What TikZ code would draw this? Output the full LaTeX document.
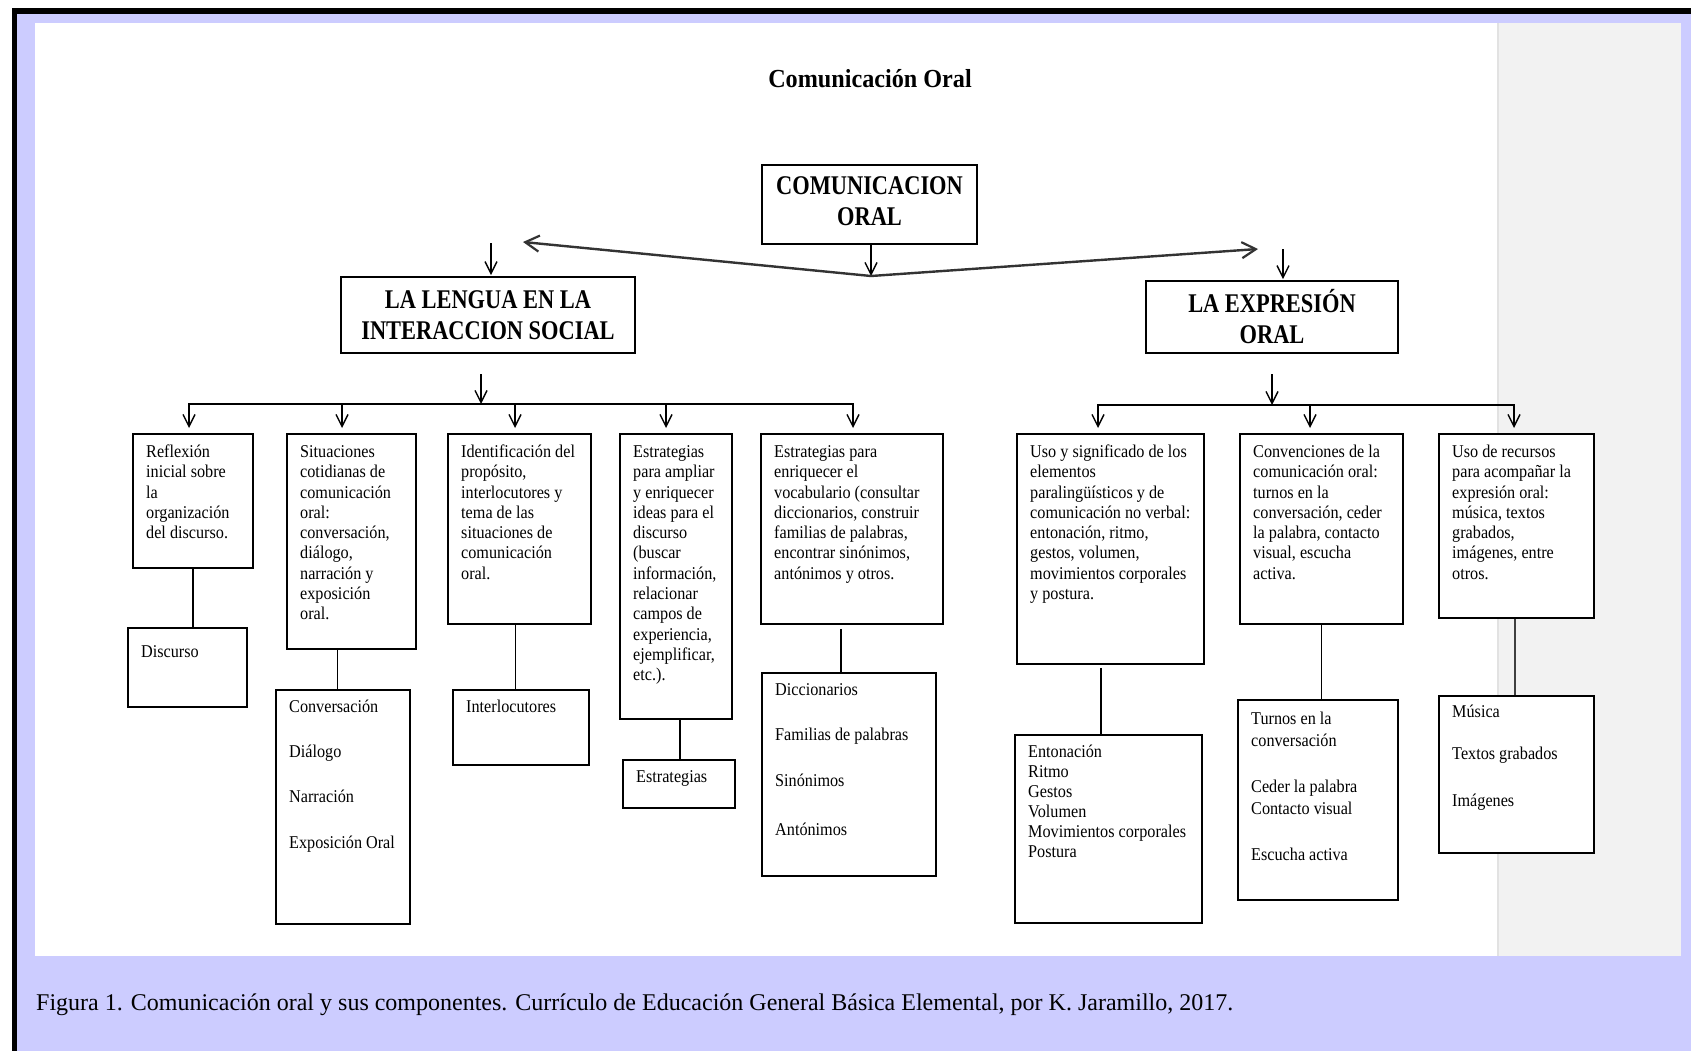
\documentclass[tikz,border=0pt]{standalone}
\usepackage{fontspec}
\setmainfont{Liberation Serif}
\newfontfamily\capfont{Liberation Serif}
\newfontfamily\condfont[FakeStretch=0.9]{Liberation Serif}
\newfontfamily\headfont[FakeStretch=0.83]{Liberation Serif}
\newfontfamily\titlefont[FakeStretch=0.93]{Liberation Serif}
\usetikzlibrary{arrows.meta}
\definecolor{lav}{HTML}{CCCCFF}
\definecolor{panelgray}{HTML}{F2F2F2}
\definecolor{panelline}{HTML}{E2E2E2}
\tikzset{
  box/.style={draw=black, line width=1.8pt, rectangle, inner sep=0pt, fill=white},
  hbox/.style={draw=black, line width=1.8pt, rectangle, inner sep=0pt, fill=white,
    font=\headfont\bfseries\fontsize{27}{31}\selectfont, align=center},
  txt/.style={inner sep=0pt, align=left, font=\condfont\fontsize{18}{20.3}\selectfont},
  arr/.style={line width=1.4pt, -{Straight Barb[length=12pt,width=12pt,line width=1.4pt]}},
  bigarr/.style={line width=2.4pt, draw=black!80, -{Straight Barb[length=14pt,width=16pt,line width=2.2pt]}},
  conn/.style={line width=1.6pt}
}
% name, x, y, width, height, text dy, text
\newcommand\dbox[7]{%
  \node[box, minimum width=#4pt, minimum height=#5pt, anchor=north west] (#1) at (#2,#3) {};
  \node[txt, anchor=north west] (#1t) at ([xshift=14pt,yshift=-#6pt]#1.north west) {\strut #7};
}
\begin{document}
\begin{tikzpicture}[x=1pt,y=-1pt]
\useasboundingbox (0,0) rectangle (1691,1051);
% background and frame
\fill[white] (0,0) rectangle (1691,1051);
\fill[lav] (11.5,8.5) rectangle (1691,1051);
\fill[black] (11.5,8.5) rectangle (1691,14.5);
\fill[black] (11.5,8.5) rectangle (17,1051);
\fill[white] (34.5,22.7) rectangle (1497,956);
\fill[panelgray] (1497,22.7) rectangle (1681,956);
\draw[panelline, line width=1.5pt] (1497.8,22.7) -- (1497.8,956);

% title and caption
\node[font=\titlefont\bfseries\fontsize{26}{30}\selectfont, anchor=base, inner sep=0pt] (title) at (870,88) {Comunicación Oral};
\node[font=\capfont\fontsize{24}{28}\selectfont, anchor=base west, inner sep=0pt] (caption) at (36,1010)
  {Figura 1. Comunicación oral y sus componentes. Currículo de Educación General Básica Elemental, por K. Jaramillo, 2017.};

% heading boxes
\node[hbox, minimum width=215pt, minimum height=79pt] (top) at (869.5,204.5) {COMUNICACION\\ORAL\rule[-6pt]{0pt}{0pt}};
\node[hbox, minimum width=294pt, minimum height=76pt] (lengua) at (488,315) {LA LENGUA EN LA\\INTERACCION SOCIAL};
\node[hbox, minimum width=252pt, minimum height=72pt] (expr) at (1272,317) {LA EXPRESIÓN\\ORAL};

% top arrows
\coordinate (V) at (871,276);
\coordinate (Ltip) at (523,242);
\coordinate (Rtip) at (1258,249);
\draw[arr] (top.south -| V) -- (V);
\draw[bigarr] (V) -- (Ltip);
\draw[bigarr] (V) -- (Rtip);
\coordinate (lin) at (491,243);
\draw[arr, shorten >=1pt] (lin) -- (lin |- lengua.north);
\coordinate (rin) at (1283,249);
\draw[arr, shorten >=1pt] (rin) -- (rin |- expr.north);

% level 3 boxes
\dbox{A}{132}{433}{120}{134}{10}{Reflexión\\inicial sobre\\la\\organización\\del discurso.}
\dbox{B}{286}{433}{129}{215}{10}{Situaciones\\cotidianas de\\comunicación\\oral:\\conversación,\\diálogo,\\narración y\\exposición\\oral.}
\dbox{C}{447}{433}{143}{190}{10}{Identificación del\\propósito,\\interlocutores y\\tema de las\\situaciones de\\comunicación\\oral.}
\dbox{D}{619}{433}{112}{285}{10}{Estrategias\\para ampliar\\y enriquecer\\ideas para el\\discurso\\(buscar\\información,\\relacionar\\campos de\\experiencia,\\ejemplificar,\\etc.).}
\dbox{E}{760}{433}{182}{190}{10}{Estrategias para\\enriquecer el\\vocabulario (consultar\\diccionarios, construir\\familias de palabras,\\encontrar sinónimos,\\antónimos y otros.}
\dbox{F}{1016}{433}{187}{230}{10}{Uso y significado de los\\elementos\\paralingüísticos y de\\comunicación no verbal:\\entonación, ritmo,\\gestos, volumen,\\movimientos corporales\\y postura.}
\dbox{G}{1239}{433}{163}{190}{10}{Convenciones de la\\comunicación oral:\\turnos en la\\conversación, ceder\\la palabra, contacto\\visual, escucha\\activa.}
\dbox{H}{1438}{433}{155}{184}{10}{Uso de recursos\\para acompañar la\\expresión oral:\\música, textos\\grabados,\\imágenes, entre\\otros.}

% level 4 boxes
\dbox{A2}{127}{627}{119}{79}{16}{Discurso}
\dbox{B2}{275}{689}{134}{234}{9}{Conversación\\[24.7pt]Diálogo\\[24.7pt]Narración\\[25.5pt]Exposición Oral}
\dbox{C2}{452}{689}{136}{75}{9}{Interlocutores}
\dbox{D2}{622}{759}{112}{48}{9}{Estrategias}
\dbox{E2}{761}{672}{174}{203}{9}{Diccionarios\\[24.7pt]Familias de palabras\\[25.7pt]Sinónimos\\[28.7pt]Antónimos}
\dbox{F2}{1014}{734}{187}{188}{9}{Entonación\\[-0.3pt]Ritmo\\[-0.3pt]Gestos\\[-0.3pt]Volumen\\[-0.3pt]Movimientos corporales\\[-0.3pt]Postura}
\dbox{G2}{1237}{699}{160}{200}{11}{Turnos en la\\[1.7pt]conversación\\[25.7pt]Ceder la palabra\\[1.7pt]Contacto visual\\[25.7pt]Escucha activa}
\dbox{H2}{1438}{695}{155}{157}{8}{Música\\[21.7pt]Textos grabados\\[26.7pt]Imágenes}

% left distribution bar
\coordinate (lout) at (481,374);
\coordinate (lbar) at (481,404);
\draw[arr] (lout) -- (lbar);
\coordinate (bA) at (189,404);
\coordinate (bB) at (342,404);
\coordinate (bC) at (515,404);
\coordinate (bD) at (666,404);
\coordinate (bE) at (853,404);
\draw[conn, line cap=rect] (bA) -- (bE);
\foreach \n in {A,B,C,D,E} \draw[arr, shorten >=5pt] (b\n) -- (b\n |- \n.north);

% right distribution bar
\coordinate (rout) at (1272,374);
\coordinate (rbar) at (1272,405);
\draw[arr] (rout) -- (rbar);
\coordinate (bF) at (1098,405);
\coordinate (bG) at (1310,405);
\coordinate (bH) at (1514,405);
\draw[conn, line cap=rect] (bF) -- (bH);
\foreach \n in {F,G,H} \draw[arr, shorten >=5pt] (b\n) -- (b\n |- \n.north);

% level 4 connectors
\draw[conn] (A.south) -- (A.south |- A2.north);
\draw[conn] ([xshift=-14pt]B.south) -- ([xshift=-14pt]B.south |- B2.north);
\draw[conn] ([xshift=-4pt]C.south) -- ([xshift=-4pt]C.south |- C2.north);
\draw[conn] ([xshift=4pt]D.south) -- ([xshift=4pt]D.south |- D2.north);
\draw[conn, shorten <=4pt] ([xshift=-11pt]E.south) -- ([xshift=-11pt]E.south |- E2.north);
\draw[conn, shorten <=3pt] ([xshift=-9.5pt]F.south) -- ([xshift=-9.5pt]F.south |- F2.north);
\draw[conn] (G.south) -- (G.south |- G2.north);
\draw[conn, draw=black!75] ([xshift=-1.5pt]H.south) -- ([xshift=-1.5pt]H.south |- H2.north);
\end{tikzpicture}
\end{document}
